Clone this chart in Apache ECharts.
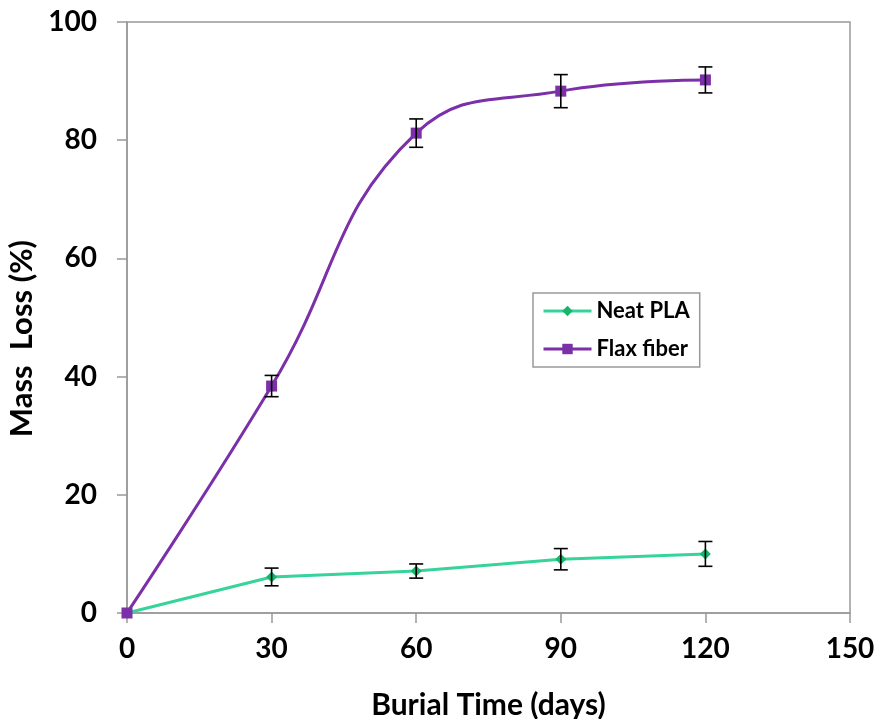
<!DOCTYPE html>
<html><head><meta charset="utf-8">
<script src="https://cdn.jsdelivr.net/npm/echarts@6/dist/echarts.min.js"></script>
<style>html,body{margin:0;padding:0;background:#fff}#c{width:881px;height:719px}</style>
</head><body><div id="c"></div>
<script>
var days = [0, 30, 60, 90, 120];
var neatPLA = [0, 6.1, 7.1, 9.1, 10.0];
var neatPLAErr = [0, 1.5, 1.2, 1.8, 2.1];
var flax = [0, 38.4, 81.2, 88.3, 90.2];
var flaxErr = [0, 1.8, 2.4, 2.8, 2.2];
var xTicks = [0, 30, 60, 90, 120, 150];
var yTicks = [0, 20, 40, 60, 80, 100];

var FONT = 'Lato';
function pairs(x, y){ return x.map(function(v,i){ return [v, y[i]]; }); }
function errData(x, y, e){ return x.map(function(v,i){ return [v, y[i]-e[i], y[i]+e[i]]; }).filter(function(d,i){return e[i]>0;}); }
function errSeries(data){
  return {
    type:'custom', data:data, z:5, silent:true,
    renderItem:function(params, api){
      var lo = api.coord([api.value(0), api.value(1)]);
      var hi = api.coord([api.value(0), api.value(2)]);
      var w = 7;
      var st = {stroke:'#000', lineWidth:1.6};
      return {type:'group', children:[
        {type:'line', shape:{x1:lo[0], y1:lo[1], x2:hi[0], y2:hi[1]}, style:st},
        {type:'line', shape:{x1:lo[0]-w, y1:lo[1], x2:lo[0]+w, y2:lo[1]}, style:st},
        {type:'line', shape:{x1:hi[0]-w, y1:hi[1], x2:hi[0]+w, y2:hi[1]}, style:st}
      ]};
    }
  };
}
var chart = echarts.init(document.getElementById('c'));
chart.setOption({
  animation:false,
  backgroundColor:'#fff',
  grid:{left:127, right:31, top:22, bottom:106, show:true, borderColor:'#999', borderWidth:1.5,
    containLabel:false, outerBoundsMode:'none'},
  legend:{
    left:533, top:293, orient:'vertical', itemWidth:48, itemHeight:13, itemGap:16,
    padding:[7,10,7,9],
    borderColor:'#999', borderWidth:1.5,
    lineStyle:{width:3},
    textStyle:{fontFamily:FONT, fontWeight:'bold', fontSize:22, color:'#000'},
    data:[{name:'Neat PLA', lineStyle:{width:3}}, {name:'Flax fiber', lineStyle:{width:3}}]
  },
  xAxis:{
    type:'value', min:0, max:150, interval:30,
    axisLine:{show:true, lineStyle:{color:'#999', width:1.5}},
    axisTick:{show:true, inside:false, length:10, lineStyle:{color:'#999', width:1.5}},
    splitLine:{show:false},
    axisLabel:{margin:22, fontFamily:FONT, fontWeight:'bold', fontSize:28, color:'#000',
      formatter:function(v){ return xTicks.indexOf(v)>=0 ? String(v) : ''; }},
    name:'Burial Time (days)', nameLocation:'middle', nameGap:77,
    nameTextStyle:{fontFamily:FONT, fontWeight:'bold', fontSize:30, color:'#000'}
  },
  yAxis:{
    type:'value', min:0, max:100, interval:20,
    axisLine:{show:true, lineStyle:{color:'#999', width:1.5}},
    axisTick:{show:true, inside:false, length:10, lineStyle:{color:'#999', width:1.5}},
    splitLine:{show:false},
    axisLabel:{margin:30, fontFamily:FONT, fontWeight:'bold', fontSize:28, color:'#000',
      formatter:function(v){ return yTicks.indexOf(v)>=0 ? String(v) : ''; }},
    name:'Mass  Loss (%)', nameLocation:'middle', nameGap:85,
    nameTextStyle:{fontFamily:FONT, fontWeight:'bold', fontSize:31, color:'#000', padding:[0,42,0,0]}
  },
  series:[
    {name:'Neat PLA', type:'line', data:pairs(days, neatPLA), smooth:false,
      symbol:'diamond', symbolSize:11, z:3,
      lineStyle:{color:'#36D39A', width:3},
      itemStyle:{color:'#16B56C'}},
    {name:'Flax fiber', type:'line', data:pairs(days, flax), smooth:0.45,
      symbol:'rect', symbolSize:11, z:3,
      lineStyle:{color:'#7B2FA8', width:3},
      itemStyle:{color:'#7B2FA8'}},
    errSeries(errData(days, neatPLA, neatPLAErr)),
    errSeries(errData(days, flax, flaxErr))
  ]
});
</script></body></html>
